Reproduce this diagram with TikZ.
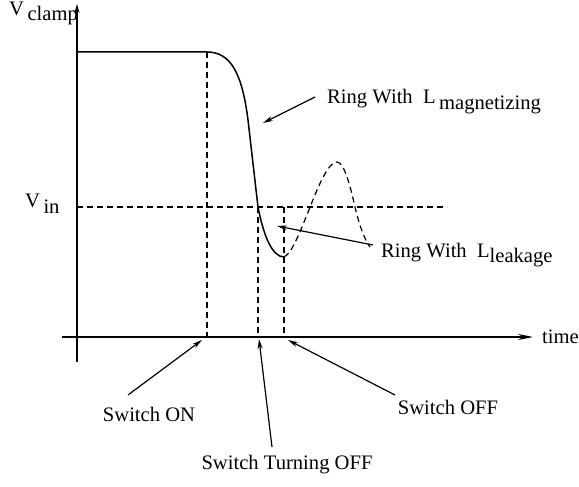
\documentclass[tikz,border=0pt]{standalone}
\usepackage{fontspec}
\setmainfont{Liberation Serif}
\usetikzlibrary{arrows.meta}
\begin{document}
\begin{tikzpicture}[x=1pt,y=-1pt,
  lbl/.style={anchor=base west,inner sep=0pt,font=\fontsize{20.6}{24}\selectfont},
  lblc/.style={anchor=base,inner sep=0pt,font=\fontsize{20.6}{24}\selectfont},
  axis/.style={line width=1.3pt},
  wave/.style={line width=1.5pt},
  guide/.style={line width=1.2pt,dash pattern=on 6pt off 4pt},
  pointer/.style={line width=1.2pt,-{Stealth[length=10pt,width=5pt]}}]
\useasboundingbox (0,0) rectangle (579,487);

% axes
\coordinate (yb) at (77,362);
\coordinate (yt) at (77,4);
\coordinate (xl) at (62,337);
\coordinate (xr) at (533,337);
\draw[axis,-{Stealth[length=9pt,width=5pt]}] (yb) -- (yt);
\draw[axis,-{Stealth[length=15pt,width=6pt]}] (xl) -- (xr);

% axis labels
\node[lbl] (vclamp) at (9,16) {V\,\raisebox{-5pt}{clamp}};
\node[lbl] (vin) at (25,207) {V\,\raisebox{-6pt}{in}};
\node[lbl] (time) at (542,343) {time};

% time markers
\coordinate (on) at (207,52);
\coordinate (cross) at (258,207);
\coordinate (vmin) at (284,257);
\draw[guide] (77,207) -- (447,207);
\draw[guide] (on) -- (207,337);
\draw[guide] (cross) -- (258,337);
\draw[guide] (284,207) -- (284,337);

% clamp voltage waveform
\draw[wave] (77,52) -- (on)
  .. controls (230,52) and (242,72) .. (248,120)
  -- (cross)
  .. controls (264,238) and (273,257) .. (vmin);

% continued ringing
\draw[guide] (vmin) .. controls (300,250) and (320,162) .. (337,162)
  .. controls (344,162) and (350,185) .. (355,207)
  .. controls (360,228) and (365,240) .. (370,247);

% annotations
\node[lbl] (rmag) at (327,103) {Ring With~~L\,\raisebox{-6pt}{magnetizing}};
\node[lbl] (rleak) at (381,257) {Ring With~~L\raisebox{-5pt}{leakage}};
\node[lblc] (son) at (149,421) {Switch ON};
\node[lblc] (stoff) at (287,469) {Switch Turning OFF};
\node[lblc] (soff) at (448,414) {Switch OFF};

\coordinate (magfrom) at (315,97);
\coordinate (magto) at (263,123);
\coordinate (leakfrom) at (373,245);
\coordinate (leakto) at (277,226);
\coordinate (onfrom) at (128,395);
\coordinate (onto) at (202,340);
\coordinate (tofrom) at (272,447);
\coordinate (toto) at (259,339);
\coordinate (offfrom) at (395,395);
\coordinate (offto) at (288,340);

\draw[pointer] (magfrom) -- (magto);
\draw[pointer] (leakfrom) -- (leakto);
\draw[pointer] (onfrom) -- (onto);
\draw[pointer] (tofrom) -- (toto);
\draw[pointer] (offfrom) -- (offto);
\end{tikzpicture}
\end{document}
